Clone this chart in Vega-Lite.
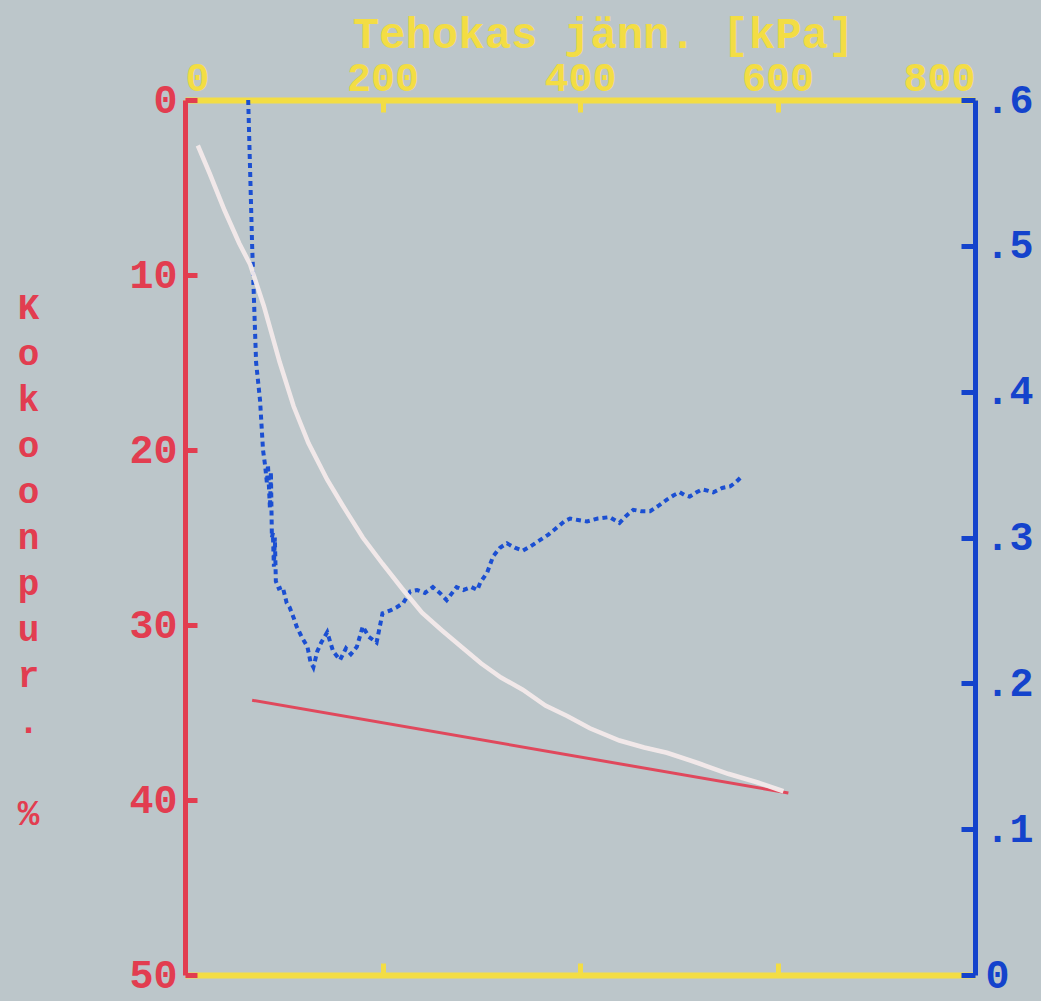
{
  "$schema": "https://vega.github.io/schema/vega-lite/v6.json",
  "autosize": {"type": "none"},
  "padding": {"left": 185, "top": 100, "right": 66, "bottom": 26},
  "width": 790,
  "height": 875,
  "background": "#bcc6ca",
  "config": {
    "view": {"stroke": null},
    "axis": {"grid": false, "labelFont": "Liberation Mono", "labelFontWeight": "bold", "labelFontSize": 40, "titleFont": "Liberation Mono", "titleFontWeight": "bold"}
  },
  "datasets": {
    "curve": [
      {"s": 13, "p": 2.6}, {"s": 25, "p": 4.2}, {"s": 40, "p": 6.3}, {"s": 55, "p": 8.2}, {"s": 66, "p": 9.4},
      {"s": 80, "p": 11.8}, {"s": 96, "p": 15.0}, {"s": 110, "p": 17.5}, {"s": 125, "p": 19.6}, {"s": 144, "p": 21.7},
      {"s": 160, "p": 23.2}, {"s": 180, "p": 25.0}, {"s": 200, "p": 26.5}, {"s": 221, "p": 28.0}, {"s": 240, "p": 29.3},
      {"s": 260, "p": 30.3}, {"s": 281, "p": 31.3}, {"s": 300, "p": 32.2}, {"s": 320, "p": 33.0}, {"s": 342, "p": 33.7},
      {"s": 365, "p": 34.6}, {"s": 387, "p": 35.2}, {"s": 410, "p": 35.9}, {"s": 440, "p": 36.6}, {"s": 465, "p": 37.0},
      {"s": 488, "p": 37.3}, {"s": 520, "p": 37.9}, {"s": 550, "p": 38.5}, {"s": 580, "p": 39.0}, {"s": 606, "p": 39.5}
    ],
    "line": [
      {"s": 68, "p": 34.3}, {"s": 611, "p": 39.6}
    ],
    "ratio": [
      {"s": 64, "r": 0.600}, {"s": 66, "r": 0.55}, {"s": 68, "r": 0.50}, {"s": 70, "r": 0.46}, {"s": 72, "r": 0.42},
      {"s": 76, "r": 0.394}, {"s": 79, "r": 0.36}, {"s": 81, "r": 0.35}, {"s": 83, "r": 0.337}, {"s": 84, "r": 0.35},
      {"s": 86, "r": 0.32}, {"s": 87, "r": 0.345}, {"s": 88, "r": 0.30}, {"s": 89, "r": 0.303}, {"s": 90, "r": 0.28},
      {"s": 91, "r": 0.30}, {"s": 92, "r": 0.27}, {"s": 95, "r": 0.265}, {"s": 99, "r": 0.266}, {"s": 103, "r": 0.255},
      {"s": 106, "r": 0.252}, {"s": 110, "r": 0.245}, {"s": 113, "r": 0.239}, {"s": 118, "r": 0.232}, {"s": 124, "r": 0.225},
      {"s": 127, "r": 0.215}, {"s": 130, "r": 0.211}, {"s": 134, "r": 0.222}, {"s": 138, "r": 0.228}, {"s": 144, "r": 0.235},
      {"s": 150, "r": 0.222}, {"s": 157, "r": 0.216}, {"s": 163, "r": 0.224}, {"s": 168, "r": 0.22}, {"s": 174, "r": 0.225},
      {"s": 180, "r": 0.239}, {"s": 186, "r": 0.232}, {"s": 194, "r": 0.228}, {"s": 200, "r": 0.248}, {"s": 208, "r": 0.25},
      {"s": 214, "r": 0.252}, {"s": 221, "r": 0.255}, {"s": 228, "r": 0.263}, {"s": 235, "r": 0.264}, {"s": 243, "r": 0.262},
      {"s": 251, "r": 0.266}, {"s": 258, "r": 0.262}, {"s": 265, "r": 0.257}, {"s": 275, "r": 0.266}, {"s": 282, "r": 0.264},
      {"s": 290, "r": 0.266}, {"s": 296, "r": 0.264}, {"s": 299, "r": 0.269}, {"s": 306, "r": 0.276}, {"s": 312, "r": 0.287},
      {"s": 319, "r": 0.293}, {"s": 326, "r": 0.296}, {"s": 334, "r": 0.293}, {"s": 342, "r": 0.291}, {"s": 350, "r": 0.294},
      {"s": 359, "r": 0.298}, {"s": 368, "r": 0.302}, {"s": 377, "r": 0.307}, {"s": 384, "r": 0.311}, {"s": 390, "r": 0.313},
      {"s": 398, "r": 0.312}, {"s": 407, "r": 0.311}, {"s": 418, "r": 0.313}, {"s": 430, "r": 0.314}, {"s": 440, "r": 0.310},
      {"s": 447, "r": 0.315}, {"s": 454, "r": 0.319}, {"s": 462, "r": 0.318}, {"s": 471, "r": 0.318}, {"s": 480, "r": 0.322},
      {"s": 488, "r": 0.326}, {"s": 495, "r": 0.329}, {"s": 501, "r": 0.331}, {"s": 506, "r": 0.329}, {"s": 511, "r": 0.328},
      {"s": 518, "r": 0.331}, {"s": 524, "r": 0.333}, {"s": 530, "r": 0.332}, {"s": 535, "r": 0.331}, {"s": 544, "r": 0.334},
      {"s": 552, "r": 0.335}, {"s": 558, "r": 0.338}, {"s": 564, "r": 0.342}
    ]
  },
  "layer": [
    {
      "data": {"name": "line"},
      "mark": {"type": "line", "color": "#e0485c", "strokeWidth": 3},
      "encoding": {
        "x": {"field": "s", "type": "quantitative", "scale": {"domain": [0, 800]}, "axis": null},
        "y": {"field": "p", "type": "quantitative", "scale": {"domain": [0, 50], "reverse": true}, "axis": null}
      }
    },
    {
      "data": {"name": "ratio"},
      "mark": {"type": "line", "color": "#1b4fd2", "strokeWidth": 4, "strokeDash": [5, 4]},
      "encoding": {
        "x": {"field": "s", "type": "quantitative", "scale": {"domain": [0, 800]},
          "axis": {"orient": "bottom", "title": null, "labels": false, "values": [200, 400, 600],
            "domainColor": "#f3dd44", "domainWidth": 6, "tickColor": "#f3dd44", "tickWidth": 5, "tickSize": -12}},
        "y": {"field": "r", "type": "quantitative", "scale": {"domain": [0, 0.6]},
          "axis": {"orient": "right", "title": null, "values": [0, 0.1, 0.2, 0.3, 0.4, 0.5, 0.6],
            "labelExpr": "datum.value == 0 ? '0' : replace(format(datum.value, '.1f'), '0.', '.')",
            "domainColor": "#1443cc", "domainWidth": 5, "tickColor": "#1443cc", "tickWidth": 5, "tickSize": -14,
            "labelColor": "#1443cc", "labelPadding": 24, "labelFontSize": 40}}
      }
    },
    {
      "data": {"name": "curve"},
      "mark": {"type": "line", "color": "#f3eaea", "strokeWidth": 4.5, "opacity": 0.95},
      "encoding": {
        "x": {"field": "s", "type": "quantitative", "scale": {"domain": [0, 800]},
          "axis": {"orient": "top", "title": "Tehokas jänn. [kPa]", "values": [0, 200, 400, 600, 800],
            "domainColor": "#f3dd44", "domainWidth": 6, "tickColor": "#f3dd44", "tickWidth": 5, "tickSize": -12,
            "labelColor": "#f3dd44", "labelPadding": 14, "labelFontSize": 40,
            "titleColor": "#f3dd44", "titleFontSize": 44, "titlePadding": 2, "titleX": 418, "titleAlign": "center"}},
        "y": {"field": "p", "type": "quantitative", "scale": {"domain": [0, 50], "reverse": true},
          "axis": {"orient": "left", "values": [0, 10, 20, 30, 40, 50],
            "title": ["K", "o", "k", "o", "o", "n", "p", "u", "r", ".", "\u2800", "%"],
            "titleAngle": 0, "titleAlign": "center", "titleBaseline": "top", "titleX": -157, "titleY": 190,
            "titleLineHeight": 46, "titleFontSize": 36, "titleColor": "#e23d50",
            "domainColor": "#e23d50", "domainWidth": 5, "tickColor": "#e23d50", "tickWidth": 5, "tickSize": -12,
            "labelColor": "#e23d50", "labelPadding": 20, "labelFontSize": 40}}
      }
    }
  ],
  "resolve": {"scale": {"y": "independent"}, "axis": {"x": "independent", "y": "independent"}}
}
